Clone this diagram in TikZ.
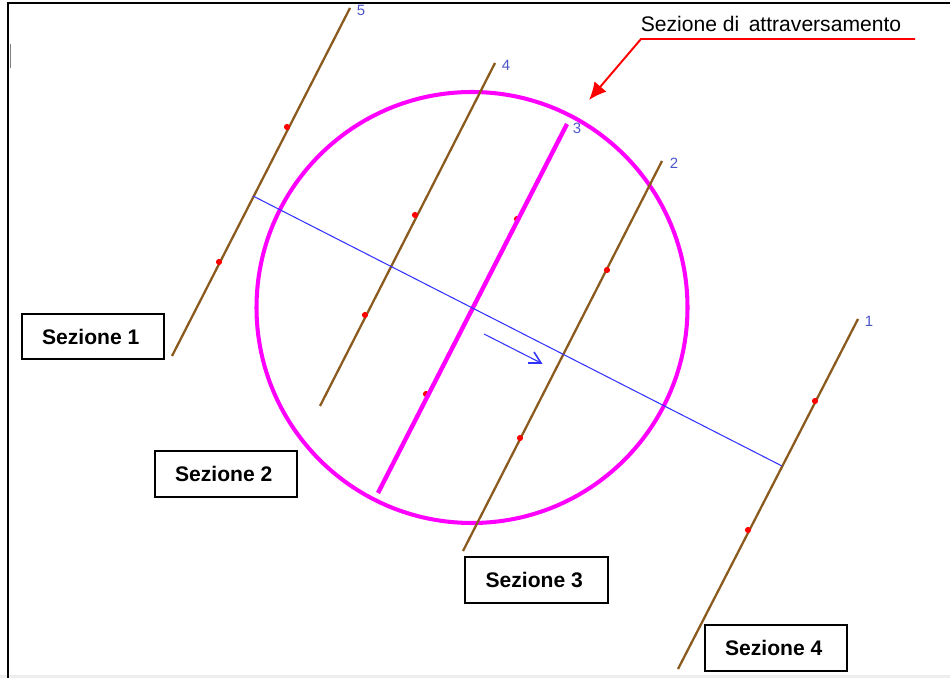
\documentclass[tikz,border=0pt]{standalone}
\usepackage{fontspec}
\setmainfont{Liberation Sans}
\usepackage{xcolor}
\definecolor{SecBrown}{HTML}{8B5A1E}
\definecolor{SecMagenta}{HTML}{FF00FF}
\definecolor{NumBlue}{HTML}{4A55C8}
\definecolor{StripGray}{HTML}{EEEEEE}
\usetikzlibrary{arrows.meta,positioning}

\begin{document}
\begin{tikzpicture}[x=0.02cm, y=-0.02cm, every node/.style={font=\fontsize{12}{14}\selectfont}]
\tikzset{labelbox/.style={draw, line width=1pt, fill=white, minimum width=81pt, minimum height=26pt, inner sep=0pt, font=\fontsize{12}{14}\selectfont\bfseries, execute at end node=\hspace{2.6pt}}}
\tikzset{section/.style={draw=SecBrown, line width=1.3pt}}
\tikzset{activesection/.style={draw=SecMagenta, line width=2.5pt}}
\tikzset{axisline/.style={draw=blue!80!white, line width=0.6pt}}
\tikzset{callout/.style={draw=red, line width=1.1pt}}
\tikzset{secnum/.style={text=NumBlue, font=\fontsize{8.5}{10}\selectfont, inner sep=0pt}}
\tikzset{reddot/.style={circle, fill=red, inner sep=0pt, minimum size=3.5pt}}
\useasboundingbox (0,0) rectangle (950,678);
\fill[StripGray] (0,675) rectangle (950,678);
% frame
\draw[line width=1.4pt] (8,678) -- (8,3) -- (950,3);
\draw[gray, line width=0.4pt] (10,44) -- (10,68);
% crossing section
\node[draw=SecMagenta, line width=2.3pt, circle, minimum size=431*0.02cm, inner sep=0pt] (crossing) at (472,307.5) {};
% section ends
\coordinate (s5a) at (172,356);
\coordinate (s5b) at (350,8);
\coordinate (s4a) at (320,406);
\coordinate (s4b) at (495,63);
\coordinate (s3a) at (378,493);
\coordinate (s3b) at (567,124);
\coordinate (s2a) at (463,551);
\coordinate (s2b) at (662,161);
\coordinate (s1a) at (678,669);
\coordinate (s1b) at (858,319);
\draw[section] (s5a) -- (s5b);
\draw[section] (s4a) -- (s4b);
\draw[section] (s2a) -- (s2b);
\draw[section] (s1a) -- (s1b);
% points on the sections
\foreach \i/\px/\py in {a/287/127, b/219/262, c/415/215, d/365/315, e/517/219, f/426/394, g/607/270, h/520/438, k/815/401, l/748/530}
  \node[reddot] (dot\i) at (\px,\py) {};
\draw[activesection] (s3a) -- (s3b);
% axis
\coordinate (axisa) at (253,196);
\coordinate (axisb) at (782,466);
\draw[axisline] (axisa) -- (axisb);
\coordinate (flowa) at (484,334);
\coordinate (flowb) at (541,363);
\coordinate (barba) at (534,352);
\coordinate (barbb) at (528,363);
\draw[axisline] (flowa) -- (flowb);
\draw[axisline, line width=0.9pt] (barba) -- (flowb) -- (barbb);
% numbers
\node[secnum] (num5) at (361,10) {5};
\node[secnum] (num4) at (506,65) {4};
\node[secnum] (num3) at (577,128) {3};
\node[secnum] (num2) at (674,163) {2};
\node[secnum] (num1) at (869,321) {1};
% callout
\node[inner sep=0pt] (title) at (771,24) {Sezione di\hspace{0.45em}attraversamento};
\coordinate (calla) at (915,39);
\coordinate (callb) at (641,39);
\coordinate (callc) at (589,100);
\draw[callout, -{Latex[length=10pt, width=9pt]}] (calla) -- (callb) -- (callc);
% labels
\node[labelbox] (sez1) at (93,336.5) {Sezione 1};
\node[labelbox] (sez2) at (226,474) {Sezione 2};
\node[labelbox] (sez3) at (536.5,580) {Sezione 3};
\node[labelbox] (sez4) at (776,648) {Sezione 4};
\end{tikzpicture}
\end{document}
